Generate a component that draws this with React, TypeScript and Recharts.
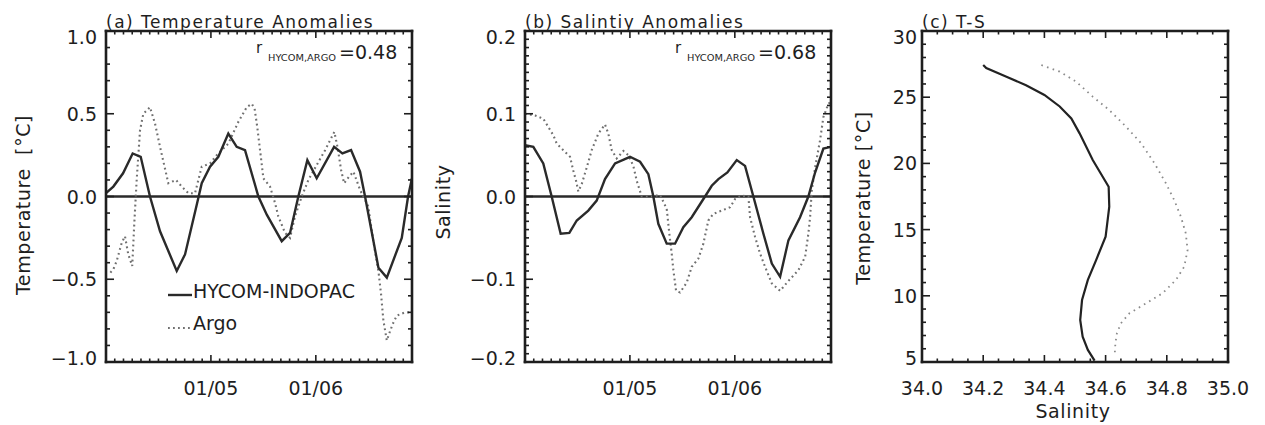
import React from 'react';
import { LineChart, Line, XAxis, YAxis, ReferenceLine } from 'recharts';

const FONT = '"DejaVu Sans", "Liberation Sans", sans-serif';
const INK = '#1e1e1e';
const W = 1265;
const H = 425;

// ---------- (a) Temperature anomalies (x = months since 01/2004) ----------
const tempHycomMonths = [0, 0.84, 1.95, 3.05, 3.97, 5.03, 6.18, 8.09, 9.04, 10.38, 10.95, 11.9, 12.85, 13.99, 14.95, 15.9, 17.43, 18.39, 20.1, 21.05, 22.0, 23.03, 24.1, 26.09, 27.04, 28.03, 29.06, 29.63, 31.16, 32.12, 33.83, 34.55, 35];
const tempHycomValues = [0.02, 0.06, 0.14, 0.26, 0.24, 0.0, -0.21, -0.45, -0.35, -0.05, 0.08, 0.18, 0.24, 0.38, 0.3, 0.28, 0.0, -0.11, -0.27, -0.22, 0.0, 0.22, 0.11, 0.3, 0.26, 0.28, 0.15, 0.0, -0.43, -0.49, -0.25, 0.0, 0.11];
const tempArgoMonths = [0.5, 0.84, 1.22, 1.8, 2.17, 2.55, 3.0, 3.24, 3.51, 3.89, 4.27, 5.03, 5.61, 6.18, 7.13, 8.0, 8.66, 9.42, 10.18, 10.95, 11.9, 12.67, 14.0, 15.13, 16.1, 16.67, 17.0, 17.3, 17.62, 18.0, 18.76, 19.34, 19.71, 20.48, 21.05, 21.62, 22.39, 23.15, 24.1, 25.06, 25.82, 26.12, 26.51, 26.89, 27.23, 27.8, 28.3, 29.06, 30.0, 30.57, 31.16, 31.46, 31.73, 32.12, 32.38, 32.8, 33.26, 34.2, 35];
const tempArgoValues = [-0.46, -0.44, -0.39, -0.28, -0.24, -0.35, -0.42, -0.16, 0.1, 0.4, 0.5, 0.54, 0.44, 0.3, 0.08, 0.1, 0.06, 0.02, 0.02, 0.18, 0.2, 0.25, 0.32, 0.45, 0.54, 0.56, 0.53, 0.42, 0.28, 0.11, 0.06, -0.04, -0.12, -0.22, -0.25, -0.12, 0.0, 0.1, 0.19, 0.28, 0.36, 0.39, 0.29, 0.16, 0.08, 0.12, 0.15, 0.04, -0.06, -0.27, -0.45, -0.59, -0.75, -0.87, -0.83, -0.77, -0.72, -0.7, -0.7];

// ---------- (b) Salinity anomalies ----------
const salHycomMonths = [0, 0.95, 2.09, 3.05, 4.08, 5.07, 5.92, 7.24, 8.2, 9.15, 10.3, 12.01, 13.16, 14.11, 14.68, 15.25, 16.21, 17.16, 18.11, 19.07, 20.59, 21.36, 22.12, 23.15, 24.22, 25.17, 26.12, 27.27, 28.23, 29.18, 30.13, 31.46, 32.41, 33.18, 34.13, 35];
const salHycomValues = [0.062, 0.06, 0.04, 0.0, -0.045, -0.044, -0.029, -0.017, -0.005, 0.021, 0.04, 0.048, 0.042, 0.027, 0.0, -0.033, -0.057, -0.057, -0.037, -0.025, 0.0, 0.013, 0.021, 0.029, 0.044, 0.037, 0.0, -0.045, -0.081, -0.097, -0.053, -0.025, 0.0, 0.029, 0.058, 0.06];
const salArgoMonths = [0, 1.14, 2.09, 2.67, 3.24, 3.63, 4.38, 5.15, 5.53, 5.84, 6.1, 6.49, 7.06, 7.63, 8.39, 9.15, 9.53, 9.92, 10.49, 11.25, 11.82, 12.39, 12.78, 13.35, 14.5, 15.45, 16.21, 16.51, 16.78, 16.97, 17.28, 17.73, 18.5, 19.07, 19.83, 20.4, 20.97, 21.54, 22.5, 23.46, 24.03, 24.79, 25.55, 25.74, 26.32, 26.89, 27.46, 28.23, 29.18, 30.13, 31.27, 32.04, 32.41, 32.61, 32.8, 33.18, 33.75, 34.13, 34.7, 35];
const salArgoValues = [0.1, 0.098, 0.094, 0.084, 0.074, 0.064, 0.056, 0.048, 0.031, 0.019, 0.006, 0.015, 0.035, 0.056, 0.076, 0.087, 0.076, 0.056, 0.046, 0.055, 0.05, 0.037, 0.019, 0.0, 0.0, 0.002, -0.015, -0.045, -0.069, -0.089, -0.114, -0.116, -0.104, -0.085, -0.075, -0.057, -0.029, -0.021, -0.017, -0.013, -0.003, 0.001, 0.0, -0.025, -0.049, -0.069, -0.085, -0.105, -0.114, -0.102, -0.089, -0.073, -0.045, -0.025, 0.007, 0.035, 0.068, 0.096, 0.112, 0.115];

// ---------- (c) T-S profiles ----------
const tsHycomSalinity = [34.2, 34.21, 34.276, 34.34, 34.4, 34.45, 34.488, 34.515, 34.558, 34.61, 34.612, 34.6, 34.569, 34.542, 34.523, 34.517, 34.525, 34.542, 34.564];
const tsHycomTemp = [27.43, 27.2, 26.55, 25.9, 25.17, 24.3, 23.4, 22.27, 20.26, 18.24, 16.73, 14.46, 12.7, 11.2, 9.68, 8.17, 6.91, 5.91, 5.1];
const tsArgoSalinity = [34.39, 34.45, 34.504, 34.558, 34.612, 34.667, 34.716, 34.76, 34.797, 34.824, 34.846, 34.862, 34.868, 34.857, 34.83, 34.786, 34.732, 34.678, 34.65, 34.637, 34.632, 34.63];
const tsArgoTemp = [27.43, 26.93, 26.17, 25.04, 24.03, 22.77, 21.52, 20.0, 18.5, 17.24, 15.98, 14.72, 13.46, 12.2, 11.2, 10.19, 9.43, 8.68, 7.92, 7.17, 6.41, 5.66];

// ---------- axes / ticks ----------
const monthTicks = Array.from({ length: 36 }, (_, i) => i);
const timeMajorTicks = [12, 24];
const timeTickLabels = ['01/05', '01/06'];
const tempMinorTicks = Array.from({ length: 21 }, (_, i) => (i - 10) / 10);
const tempMajorTicks = [-1, -0.5, 0, 0.5, 1];
const salMinorTicks = Array.from({ length: 41 }, (_, i) => (i - 20) / 100);
const salMajorTicks = [-0.2, -0.1, 0, 0.1, 0.2];
const tsTempMinorTicks = Array.from({ length: 26 }, (_, i) => 5 + i);
const tsTempMajorTicks = [5, 10, 15, 20, 25, 30];
const tsSalMinorTicks = Array.from({ length: 21 }, (_, i) => (3400 + 5 * i) / 100);
const tsSalMajorTicks = [34.0, 34.2, 34.4, 34.6, 34.8, 35.0];

const corrA = '0.48';
const corrB = '0.68';

const pairs = (xs: number[], ys: number[], xk: string, yk: string) =>
  xs.map((x, i) => ({ [xk]: x, [yk]: ys[i] }));

const tempHycom = pairs(tempHycomMonths, tempHycomValues, 't', 'v');
const tempArgo = pairs(tempArgoMonths, tempArgoValues, 't', 'v');
const salHycom = pairs(salHycomMonths, salHycomValues, 't', 'v');
const salArgo = pairs(salArgoMonths, salArgoValues, 't', 'v');
const tsHycom = pairs(tsHycomSalinity, tsHycomTemp, 's', 'T');
const tsArgo = pairs(tsArgoSalinity, tsArgoTemp, 's', 'T');

const fmtSigned1 = (v: number) => (v < 0 ? '\u2212' + Math.abs(v).toFixed(1) : v.toFixed(1));
const fmtTime = (v: number) => {
  const i = timeMajorTicks.findIndex((m) => Math.abs(m - v) < 1e-6);
  return i >= 0 ? timeTickLabels[i] : null;
};

type Side = 'left' | 'right' | 'top' | 'bottom';
interface TickOpts {
  side: Side;
  majors: number[];
  label?: (v: number) => string | null;
  majorLen: number;
  minorLen: number;
  gap?: number;
}

const isMajor = (v: number, majors: number[]) => majors.some((m) => Math.abs(m - v) < 1e-6);

const makeTick = (o: TickOpts) => (p: any) => {
  const { x, y, payload } = p;
  const v = payload.value as number;
  const major = isMajor(v, o.majors);
  const len = major ? o.majorLen : o.minorLen;
  const lab = major && o.label ? o.label(v) : null;
  const ls = { stroke: INK, strokeWidth: 1.6 };
  const ts = { fontFamily: FONT, fontSize: 19, fill: INK };
  if (o.side === 'left') {
    // extreme labels sit slightly inside the box, as in the original plot
    const top = Math.abs(v - o.majors[o.majors.length - 1]) < 1e-6;
    const bottom = Math.abs(v - o.majors[0]) < 1e-6;
    const shift = top ? 6 : bottom ? -4 : 0;
    return (
      <g>
        <line x1={x} y1={y} x2={x + len} y2={y} {...ls} />
        {lab !== null && (
          <text x={x - (o.gap ?? 9)} y={y + 7 + shift} textAnchor="end" {...ts}>
            {lab}
          </text>
        )}
      </g>
    );
  }
  if (o.side === 'right') {
    return (
      <g>
        <line x1={x} y1={y} x2={x - len} y2={y} {...ls} />
      </g>
    );
  }
  if (o.side === 'bottom') {
    return (
      <g>
        <line x1={x} y1={y} x2={x} y2={y - len} {...ls} />
        {lab !== null && (
          <text x={x} y={y + 33} textAnchor="middle" {...ts}>
            {lab}
          </text>
        )}
      </g>
    );
  }
  return (
    <g>
      <line x1={x} y1={y} x2={x} y2={y + len} {...ls} />
    </g>
  );
};

const axisLine = { stroke: INK, strokeWidth: 2.6, strokeLinecap: 'square' as const };

const solidStyle = { stroke: '#2a2a2a', strokeWidth: 2.4 };
const dotStyle = { stroke: '#707070', strokeWidth: 2.1, strokeDasharray: '1.8 3.2' };

const chartStyle: React.CSSProperties = { position: 'absolute', left: 0, top: 0 };

function TimePanel(props: {
  boxLeft: number;
  boxRight: number;
  yDomain: [number, number];
  yMinor: number[];
  yMajor: number[];
  hycom: any[];
  argo: any[];
}) {
  const { boxLeft, boxRight, yDomain, yMinor, yMajor, hycom, argo } = props;
  return (
    <div style={chartStyle}>
      <LineChart
        width={W}
        height={H}
        margin={{ top: 30, bottom: 23, left: boxLeft - 60, right: W - boxRight - 1 }}
      >
        <XAxis
          xAxisId="b"
          dataKey="t"
          type="number"
          domain={[0, 35]}
          ticks={monthTicks}
          interval={0}
          allowDataOverflow
          height={40}
          tickSize={0}
          tickMargin={0}
          tickLine={false}
          axisLine={axisLine}
          tick={makeTick({ side: 'bottom', majors: timeMajorTicks, label: fmtTime, majorLen: 7, minorLen: 3.5 })}
        />
        <XAxis
          xAxisId="t"
          orientation="top"
          dataKey="t"
          type="number"
          domain={[0, 35]}
          ticks={monthTicks}
          interval={0}
          allowDataOverflow
          height={1}
          tickSize={0}
          tickMargin={0}
          tickLine={false}
          axisLine={axisLine}
          tick={makeTick({ side: 'top', majors: timeMajorTicks, majorLen: 7, minorLen: 3.5 })}
        />
        <YAxis
          yAxisId="l"
          type="number"
          domain={yDomain}
          ticks={yMinor}
          interval={0}
          allowDataOverflow
          width={60}
          tickSize={0}
          tickMargin={0}
          tickLine={false}
          axisLine={axisLine}
          tick={makeTick({ side: 'left', majors: yMajor, label: fmtSigned1, majorLen: 8, minorLen: 4 })}
        />
        <YAxis
          yAxisId="r"
          orientation="right"
          type="number"
          domain={yDomain}
          ticks={yMinor}
          interval={0}
          allowDataOverflow
          width={1}
          tickSize={0}
          tickMargin={0}
          tickLine={false}
          axisLine={axisLine}
          tick={makeTick({ side: 'right', majors: yMajor, majorLen: 8, minorLen: 4 })}
        />
        <ReferenceLine xAxisId="b" yAxisId="l" y={0} stroke="#2a2a2a" strokeWidth={2.6} />
        <Line
          xAxisId="b"
          yAxisId="l"
          data={argo}
          dataKey="v"
          type="linear"
          dot={false}
          activeDot={false}
          isAnimationActive={false}
          {...dotStyle}
        />
        <Line
          xAxisId="b"
          yAxisId="l"
          data={hycom}
          dataKey="v"
          type="linear"
          dot={false}
          activeDot={false}
          isAnimationActive={false}
          {...solidStyle}
        />
      </LineChart>
    </div>
  );
}

function TSPanel(props: { boxLeft: number; boxRight: number }) {
  const { boxLeft, boxRight } = props;
  return (
    <div style={chartStyle}>
      <LineChart
        width={W}
        height={H}
        margin={{ top: 30, bottom: 23, left: boxLeft - 60, right: W - boxRight - 1 }}
      >
        <XAxis
          xAxisId="b"
          dataKey="s"
          type="number"
          domain={[34, 35]}
          ticks={tsSalMinorTicks}
          interval={0}
          allowDataOverflow
          height={40}
          tickSize={0}
          tickMargin={0}
          tickLine={false}
          axisLine={axisLine}
          tick={makeTick({ side: 'bottom', majors: tsSalMajorTicks, label: (v) => v.toFixed(1), majorLen: 7, minorLen: 3.5 })}
        />
        <XAxis
          xAxisId="t"
          orientation="top"
          dataKey="s"
          type="number"
          domain={[34, 35]}
          ticks={tsSalMinorTicks}
          interval={0}
          allowDataOverflow
          height={1}
          tickSize={0}
          tickMargin={0}
          tickLine={false}
          axisLine={axisLine}
          tick={makeTick({ side: 'top', majors: tsSalMajorTicks, majorLen: 7, minorLen: 3.5 })}
        />
        <YAxis
          yAxisId="l"
          type="number"
          domain={[5, 30]}
          ticks={tsTempMinorTicks}
          interval={0}
          allowDataOverflow
          width={60}
          tickSize={0}
          tickMargin={0}
          tickLine={false}
          axisLine={axisLine}
          tick={makeTick({ side: 'left', majors: tsTempMajorTicks, label: (v) => String(v), majorLen: 8, minorLen: 4, gap: 5 })}
        />
        <YAxis
          yAxisId="r"
          orientation="right"
          type="number"
          domain={[5, 30]}
          ticks={tsTempMinorTicks}
          interval={0}
          allowDataOverflow
          width={1}
          tickSize={0}
          tickMargin={0}
          tickLine={false}
          axisLine={axisLine}
          tick={makeTick({ side: 'right', majors: tsTempMajorTicks, majorLen: 8, minorLen: 4 })}
        />
        <Line
          xAxisId="b"
          yAxisId="l"
          data={tsArgo}
          dataKey="T"
          type="linear"
          dot={false}
          activeDot={false}
          isAnimationActive={false}
          stroke="#8a8a8a"
          strokeWidth={1.8}
          strokeDasharray="1.6 4.4"
        />
        <Line
          xAxisId="b"
          yAxisId="l"
          data={tsHycom}
          dataKey="T"
          type="linear"
          dot={false}
          activeDot={false}
          isAnimationActive={false}
          stroke="#222"
          strokeWidth={2.2}
        />
      </LineChart>
    </div>
  );
}

function CorrLabel({ x, value }: { x: number; value: string }) {
  return (
    <g fill={INK} fontFamily={FONT}>
      <text x={x} y={53} fontSize={15}>r</text>
      <text x={x + 12} y={61} fontSize={9.5} textLength={68} lengthAdjust="spacingAndGlyphs">
        HYCOM,ARGO
      </text>
      <text x={x + 83} y={59} fontSize={19}>={value}</text>
    </g>
  );
}

function Overlay() {
  const title = { fontFamily: FONT, fontSize: 17, letterSpacing: 1.5, fill: INK };
  const lab = { fontFamily: FONT, fontSize: 19, letterSpacing: 0.6, fill: INK };
  return (
    <svg width={W} height={H} style={{ position: 'absolute', left: 0, top: 0, pointerEvents: 'none' }}>
      <text x={106} y={28} {...title}>(a) Temperature Anomalies</text>
      <text x={525} y={28} {...title}>(b) Salintiy Anomalies</text>
      <text x={922} y={28} {...title}>(c) T-S</text>

      <text x={23} y={205} transform="rotate(-90 23 205)" textAnchor="middle" dominantBaseline="central" {...lab}>
        {'Temperature\u00a0\u00a0[°C]'}
      </text>
      <text x={443} y={202} transform="rotate(-90 443 202)" textAnchor="middle" dominantBaseline="central" {...lab}>
        Salinity
      </text>
      <text x={863} y={198} transform="rotate(-90 863 198)" textAnchor="middle" dominantBaseline="central" {...lab}>
        {'Temperature [°C]'}
      </text>
      <text x={1073} y={418} textAnchor="middle" {...lab}>Salinity</text>

      <CorrLabel x={256} value={corrA} />
      <CorrLabel x={675} value={corrB} />

      <line x1={168} y1={295} x2={192} y2={295} stroke="#2a2a2a" strokeWidth={2.4} />
      <text x={193} y={298} fontFamily={FONT} fontSize={19} fill={INK}>HYCOM-INDOPAC</text>
      <line x1={168} y1={328} x2={192} y2={328} stroke="#707070" strokeWidth={2.1} strokeDasharray="1.8 3.2" />
      <text x={193} y={330} fontFamily={FONT} fontSize={19} fill={INK}>Argo</text>
    </svg>
  );
}

export default function App() {
  return (
    <div style={{ position: 'absolute', left: 0, top: 0, width: W, height: H, background: '#fff', overflow: 'hidden' }}>
      <TimePanel
        boxLeft={106}
        boxRight={412}
        yDomain={[-1, 1]}
        yMinor={tempMinorTicks}
        yMajor={tempMajorTicks}
        hycom={tempHycom}
        argo={tempArgo}
      />
      <TimePanel
        boxLeft={525}
        boxRight={831}
        yDomain={[-0.2, 0.2]}
        yMinor={salMinorTicks}
        yMajor={salMajorTicks}
        hycom={salHycom}
        argo={salArgo}
      />
      <TSPanel boxLeft={922} boxRight={1228} />
      <Overlay />
    </div>
  );
}
